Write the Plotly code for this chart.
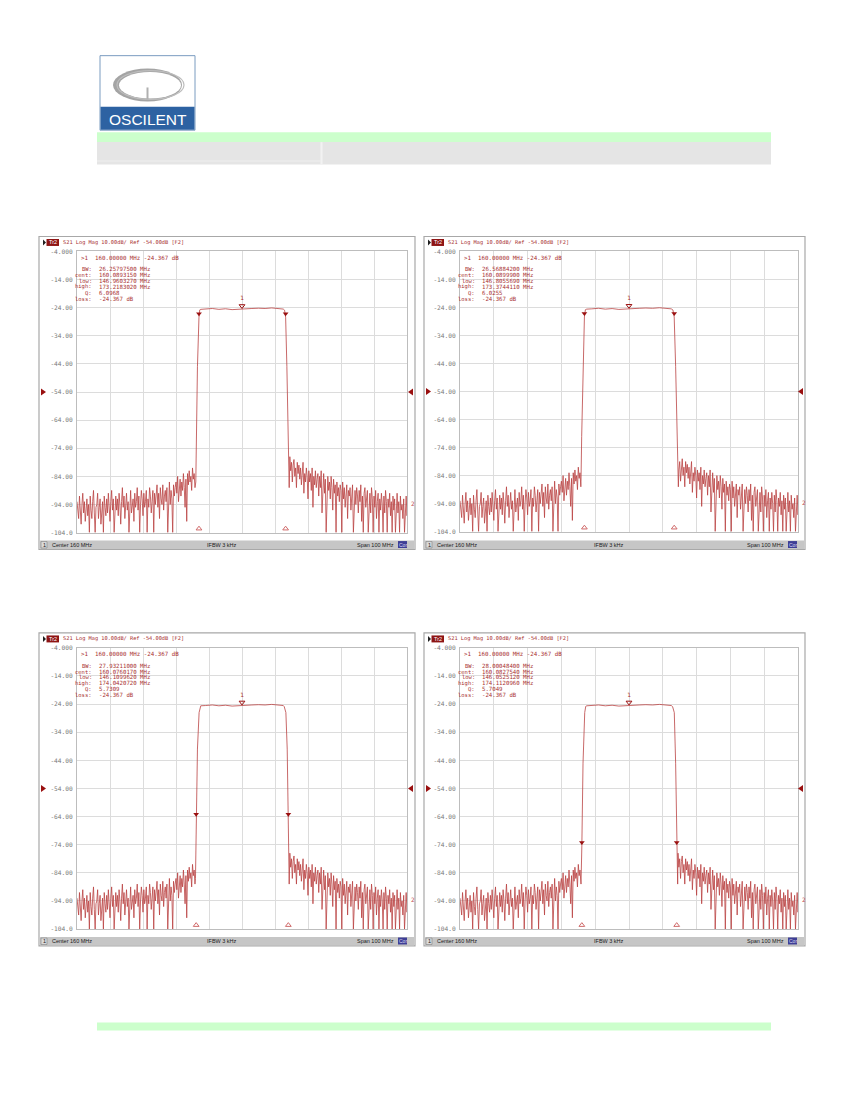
import numpy as np
import plotly.graph_objects as go

W, H = 850, 1100


def px(x):
    return x / W


def py(y):
    return 1 - y / H


# ---------------- data ----------------
y_ticks = [-4, -14, -24, -34, -44, -54, -64, -74, -84, -94, -104]
y_tick_text = ["-4.000", "-14.00", "-24.00", "-34.00", "-44.00", "-54.00",
               "-64.00", "-74.00", "-84.00", "-94.00", "-104.0"]
x_grid = [110, 120, 130, 140, 150, 160, 170, 180, 190, 200, 210]

# sweep grid of the stop band (MHz)
noise_left_freq = list(np.arange(110.0, 146.0, 0.25))
noise_left_db = [-93, -96, -99, -91, -95, -101, -94, -90, -97, -93, -100, -95,
                 -92, -98, -94, -104, -91, -96, -99, -93, -89, -97, -104, -95,
                 -94, -90, -99, -95, -92, -101, -96, -93, -104, -91, -95, -98,
                 -92, -97, -90, -95, -100, -93, -89, -96, -92, -104, -94, -91,
                 -96, -92, -98, -90, -94, -101, -93, -88, -95, -91, -99, -94,
                 -90, -96, -93, -104, -91, -89, -97, -94, -92, -100, -90, -95,
                 -93, -88, -96, -91, -104, -94, -89, -92, -98, -90, -95, -93,
                 -89, -104, -92, -95, -88, -91, -97, -93, -89, -104, -90, -94,
                 -91, -87, -95, -90, -99, -88, -92, -94, -87, -96, -91, -89,
                 -93, -88, -104, -90, -86, -94, -89, -92, -104, -87, -91, -88,
                 -86, -90, -84, -93, -87, -85, -91, -86, -89, -83, -88, -95,
                 -85, -100, -83, -87, -82, -86, -84, -89, -81, -85, -83, -88]
noise_right_freq = list(np.arange(174.5, 210.5, 0.25))
noise_right_db = [-77, -82, -79, -86, -80, -78, -84, -81, -88, -79, -83, -80,
                  -85, -81, -87, -82, -79, -90, -83, -86, -81, -84, -92, -82,
                  -86, -83, -89, -81, -95, -84, -87, -82, -88, -85, -83, -91,
                  -84, -88, -82, -97, -86, -83, -90, -85, -104, -87, -84, -89,
                  -86, -92, -84, -88, -96, -85, -90, -87, -104, -86, -91, -88,
                  -93, -87, -89, -104, -86, -92, -88, -95, -90, -87, -99, -89,
                  -91, -88, -96, -90, -87, -104, -92, -89, -94, -88, -91, -97,
                  -89, -93, -87, -100, -91, -104, -90, -88, -95, -92, -89, -104,
                  -93, -90, -97, -88, -92, -104, -91, -95, -89, -99, -93, -90,
                  -104, -92, -96, -90, -94, -104, -91, -97, -89, -93, -104, -92,
                  -95, -90, -98, -93, -104, -91, -96, -92, -104, -94, -90, -97,
                  -93, -104, -91, -96, -94, -99, -92, -104, -95, -91, -98, -93]

pass_freq = [147.5, 149, 151, 153, 155, 157, 159, 160, 161, 163, 165, 167, 169, 171, 172.5]
pass_db = [-24.6, -24.5, -24.3, -24.6, -24.4, -24.7, -24.5, -24.37, -24.4, -24.3,
           -24.2, -24.3, -24.1, -24.3, -24.5]

skirt_low_freq = [[146.0, 146.2, 146.5, 146.96, 147.2],
                  [145.8, 146.0, 146.4, 146.81, 147.1],
                  [145.9, 146.11, 146.5, 147.0, 147.3],
                  [145.8, 146.05, 146.4, 146.9, 147.2]]
skirt_low_db = [[-86, -70, -45, -27.4, -24.8],
                [-86, -70, -45, -27.4, -24.8],
                [-86, -64.4, -40, -27, -24.8],
                [-88, -74.4, -45, -27, -24.8]]
skirt_high_freq = [[172.9, 173.22, 173.6, 174.0, 174.3],
                   [173.0, 173.37, 173.8, 174.3, 174.6],
                   [172.8, 173.3, 173.7, 174.04, 174.3],
                   [172.9, 173.4, 173.8, 174.11, 174.4]]
skirt_high_db = [[-24.9, -27.4, -45, -70, -88],
                 [-24.9, -27.4, -45, -70, -88],
                 [-24.9, -27, -40, -64.4, -88],
                 [-24.9, -27, -45, -74.4, -88]]

marker_level = [-27.367, -27.367, -64.367, -74.367]
marker_low = [146.9603270, 146.8055690, 146.1099620, 146.0525120]
marker_high = [173.2183020, 173.3744110, 174.0420720, 174.1120960]
bw_text = ["26.25797500 MHz", "26.56884200 MHz", "27.93211000 MHz", "28.00048400 MHz"]
cent_text = ["160.0893150 MHz", "160.0899900 MHz", "160.0760170 MHz", "160.0827540 MHz"]
low_text = ["146.9603270 MHz", "146.8055690 MHz", "146.1099620 MHz", "146.0525120 MHz"]
high_text = ["173.2183020 MHz", "173.3744110 MHz", "174.0420720 MHz", "174.1120960 MHz"]
q_text = ["6.0968", "6.0255", "5.7309", "5.7049"]
loss_text = "-24.367 dB"
marker1_text = ">1\u00a0\u00a0160.00000 MHz -24.367 dB"
header_text = "S21 Log Mag 10.00dB/ Ref -54.00dB [F2]"

# panel geometry (pixels): frame and plot area
panels = [
    dict(fx0=39, fx1=415, fy0=234, fy1=549, ax0=77, ax1=407, ay0=249, ay1=532),
    dict(fx0=424, fx1=805, fy0=234, fy1=549, ax0=460, ax1=798, ay0=249, ay1=531),
    dict(fx0=39, fx1=415, fy0=633, fy1=948, ax0=77, ax1=407, ay0=648, ay1=931),
    dict(fx0=424, fx1=805, fy0=633, fy1=948, ax0=460, ax1=798, ay0=648, ay1=931),
]

TRACE = "#BA4242"
DARK = "#9A1010"
TXT = "#A83030"
MONO = "DejaVu Sans Mono"
SANS = "Liberation Sans"

fig = go.Figure()
shapes = []
annotations = []


def rect(x0, y0, x1, y1, fill=None, line=None, lw=1, layer="below"):
    shapes.append(dict(type="rect", xref="paper", yref="paper",
                       x0=px(x0), x1=px(x1), y0=py(y0), y1=py(y1),
                       fillcolor=fill if fill else "rgba(0,0,0,0)",
                       line=dict(color=line if line else "rgba(0,0,0,0)", width=lw if line else 0),
                       layer=layer))


def tri(points, color):
    path = "M " + " L ".join(f"{px(a)},{py(b)}" for a, b in points) + " Z"
    shapes.append(dict(type="path", xref="paper", yref="paper", path=path,
                       fillcolor=color, line=dict(width=0), layer="above"))


def text(x, y, s, size=6, color=TXT, family=MONO, xanchor="left", yanchor="middle"):
    annotations.append(dict(x=px(x), y=py(y), xref="paper", yref="paper", text=s,
                            showarrow=False, xanchor=xanchor, yanchor=yanchor,
                            font=dict(size=size, color=color, family=family)))


# ---------------- page header ----------------
rect(100, 52, 195, 127, fill="white", line="#7B9CC0", lw=1)
rect(100.5, 103.5, 194.5, 126.5, fill="#2D62A2")
shapes.append(dict(type="circle", xref="paper", yref="paper", x0=px(113), x1=px(182),
                   y0=py(65), y1=py(98), fillcolor="#A4A4A4", line=dict(width=0), layer="below"))
shapes.append(dict(type="circle", xref="paper", yref="paper", x0=px(119), x1=px(181),
                   y0=py(68.5), y1=py(95), fillcolor="white", line=dict(width=0), layer="below"))
shapes.append(dict(type="circle", xref="paper", yref="paper", x0=px(117), x1=px(184),
                   y0=py(67), y1=py(96), line=dict(color="#BDBDBD", width=1.2), layer="below"))
rect(146.5, 84, 148.5, 96, fill="#B0B0B0")
text(147.5, 116, "OSCILENT", size=15.5, color="white", family=SANS, xanchor="center")

rect(97, 129, 771, 139, fill="#CCFFCC")
rect(97, 139, 771, 161.5, fill="#E5E5E5")
rect(320.5, 139, 322.5, 161.5, fill="#F2F2F2")
rect(97, 157.5, 320.5, 158.5, fill="#EFEFEF")
rect(97, 1025, 771, 1033, fill="#CCFFCC")

# ---------------- analyzer panels ----------------
layout_axes = {}
for i, p in enumerate(panels):
    n = i + 1
    xa = "x" if n == 1 else f"x{n}"
    ya = "y" if n == 1 else f"y{n}"

    # frame, header, status bar
    rect(p["fx0"], p["fy0"], p["fx1"], p["fy1"], fill="white", line="#A8A8A8", lw=1.2)
    rect(p["fx0"] + 1, p["fy1"] - 9, p["fx1"] - 1, p["fy1"] - 0.6, fill="#C6C6C6")
    rect(p["fx0"] + 2, p["fy1"] - 8, p["fx0"] + 8, p["fy1"] - 1.5, fill="#DADADA", line="#808080", lw=0.6)
    text(p["fx0"] + 5, p["fy1"] - 4.8, "1", size=5.5, color="#202020", family=SANS, xanchor="center")
    text(p["fx0"] + 11, p["fy1"] - 4.8, "Center 160 MHz", size=5.5, color="#202020", family=SANS)
    text((p["ax0"] + p["ax1"]) / 2 - 20, p["fy1"] - 4.8, "IFBW 3 kHz", size=5.5, color="#202020",
         family=SANS, xanchor="center")
    text(p["fx1"] - 19, p["fy1"] - 4.8, "Span 100 MHz", size=5.5, color="#202020", family=SANS,
         xanchor="right")
    rect(p["fx1"] - 17, p["fy1"] - 8.5, p["fx1"] - 8, p["fy1"] - 1.5, fill="#3E3E96")
    text(p["fx1"] - 12.5, p["fy1"] - 4.8, "Cor", size=5, color="#D8D8F0", family=SANS, xanchor="center")

    hy = p["fy0"] + 6
    tri([(p["fx0"] + 4, hy - 3), (p["fx0"] + 4, hy + 3), (p["fx0"] + 7, hy)], "#202020")
    rect(p["fx0"] + 7.5, hy - 3.5, p["fx0"] + 20, hy + 3.5, fill="#8E1414", layer="above")
    text(p["fx0"] + 13.8, hy, "Tr2", size=5.5, color="white", family=SANS, xanchor="center")
    text(p["fx0"] + 22, hy, header_text, size=5.3, color=TXT)

    # reference level arrows at -54 dB
    yr = p["ay0"] + (p["ay1"] - p["ay0"]) * 0.5
    tri([(p["fx0"] + 2, yr - 3.5), (p["fx0"] + 2, yr + 3.5), (p["fx0"] + 7, yr)], DARK)
    tri([(p["fx1"] - 2, yr - 3.5), (p["fx1"] - 2, yr + 3.5), (p["fx1"] - 7, yr)], DARK)

    # marker readout
    x0, y0 = p["ax0"], p["ay0"]
    text(x0 + 2, y0 + 6.5, marker1_text, size=5.8)
    rows = [("BW:", bw_text[i]), ("cent:", cent_text[i]), ("low:", low_text[i]),
            ("high:", high_text[i]), ("Q:", q_text[i]), ("loss:", loss_text)]
    for k, (lab, val) in enumerate(rows):
        yy = y0 + 18 + k * 5.9
        text(x0 + 17, yy, lab, size=5.5, xanchor="right")
        text(x0 + 20, yy, val, size=5.7)

    # trace
    lo_f, hi_f = skirt_low_freq[i], skirt_high_freq[i]
    freq = [f for f in noise_left_freq if f < lo_f[0]]
    db = [d for f, d in zip(noise_left_freq, noise_left_db) if f < lo_f[0]]
    freq += lo_f
    db += skirt_low_db[i]
    freq += [f for f in pass_freq if lo_f[-1] < f < hi_f[0]]
    db += [d for f, d in zip(pass_freq, pass_db) if lo_f[-1] < f < hi_f[0]]
    freq += hi_f
    db += skirt_high_db[i]
    freq += [f for f in noise_right_freq if f > hi_f[-1]]
    db += [d for f, d in zip(noise_right_freq, noise_right_db) if f > hi_f[-1]]
    fig.add_trace(go.Scatter(x=freq, y=db, mode="lines", xaxis=xa, yaxis=ya,
                             line=dict(color=TRACE, width=0.8), hoverinfo="skip"))

    # markers
    fig.add_trace(go.Scatter(x=[marker_low[i], marker_high[i]], y=[marker_level[i] + 1.2] * 2,
                             mode="markers", xaxis=xa, yaxis=ya,
                             marker=dict(symbol="triangle-down", size=5, color=DARK), hoverinfo="skip"))
    fig.add_trace(go.Scatter(x=[160], y=[-23.4], mode="markers+text", xaxis=xa, yaxis=ya,
                             text=["1"], textposition="top center",
                             textfont=dict(size=6, color=TXT, family=MONO),
                             marker=dict(symbol="triangle-down-open", size=5, color=DARK),
                             hoverinfo="skip"))
    fig.add_trace(go.Scatter(x=[marker_low[i], marker_high[i]], y=[-102.6, -102.6], mode="markers",
                             xaxis=xa, yaxis=ya, cliponaxis=False,
                             marker=dict(symbol="triangle-up-open", size=5, color="#D06A6A",
                                         line=dict(width=1)),
                             hoverinfo="skip"))
    fig.add_trace(go.Scatter(x=[160], y=[-105.6], mode="markers", xaxis=xa, yaxis=ya, cliponaxis=False,
                             marker=dict(symbol="triangle-up", size=8, color="#A00000"),
                             hoverinfo="skip"))
    text(p["ax1"] + 1.5, p["ay0"] + (p["ay1"] - p["ay0"]) * 0.895, "2", size=6, color="#C05050")

    layout_axes["xaxis" if n == 1 else f"xaxis{n}"] = dict(
        domain=[px(p["ax0"]), px(p["ax1"])], range=[110, 210], anchor=ya,
        tickvals=x_grid, showticklabels=False, ticks="", showgrid=True,
        gridcolor="#DCDCDC", gridwidth=1, zeroline=False,
        showline=True, mirror=True, linecolor="#BDBDBD", linewidth=1)
    layout_axes["yaxis" if n == 1 else f"yaxis{n}"] = dict(
        domain=[py(p["ay1"]), py(p["ay0"])], range=[-104, -4], anchor=xa,
        tickvals=y_ticks, ticktext=y_tick_text, ticks="", ticklabelstandoff=2,
        tickfont=dict(size=6.2, color="#7A7A7A", family=MONO),
        showgrid=True, gridcolor="#DCDCDC", gridwidth=1, zeroline=False,
        showline=True, mirror=True, linecolor="#BDBDBD", linewidth=1)

fig.update_layout(
    width=W, height=H,
    margin=dict(l=0, r=0, t=0, b=0),
    paper_bgcolor="white", plot_bgcolor="white",
    showlegend=False,
    shapes=shapes, annotations=annotations,
    **layout_axes,
)

fig.write_html("out.html", config={"displayModeBar": False},
               post_script="document.body.style.margin='0';"
                           "document.body.style.overflow='hidden';"
                           "document.documentElement.style.overflow='hidden';")
